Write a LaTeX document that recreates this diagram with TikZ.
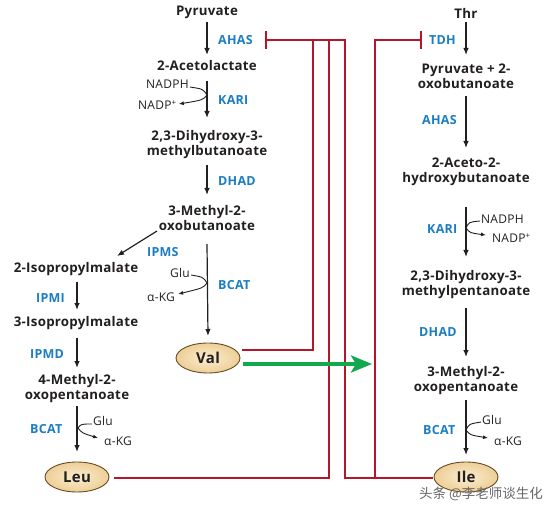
\documentclass[tikz,border=0pt]{standalone}
\usepackage{fontspec}
\setmainfont{Open Sans}[LetterSpace=2]
\newfontfamily\cjk{Noto Sans CJK SC}
\usetikzlibrary{arrows.meta,shapes.geometric}
\definecolor{txt}{HTML}{231F20}
\definecolor{enz}{HTML}{1B7DC3}
\definecolor{inhred}{HTML}{B2172A}
\definecolor{actgreen}{HTML}{12A94E}
\definecolor{ellin}{HTML}{FBEDCF}
\definecolor{ellout}{HTML}{EDCF98}
\definecolor{elldraw}{HTML}{6A4A20}
\tikzset{
  met/.style={font=\bfseries\fontsize{13.3}{15}\selectfont, align=center, inner sep=1pt, text=txt},
  enzlab/.style={font=\bfseries\fontsize{12.5}{14}\selectfont, text=enz, inner sep=0pt, anchor=west},
  cof/.style={font=\fontsize{12}{13}\selectfont, inner sep=0pt, text=txt, anchor=west},
  aa/.style={ellipse, draw=elldraw, line width=0.9pt, inner color=ellin, outer color=ellout, minimum width=64pt, minimum height=30pt, inner sep=0pt, font=\bfseries\fontsize{15}{17}\selectfont, text=txt},
  arr/.style={-{Latex[length=7pt,width=5.5pt]}, line width=1.2pt, draw=txt},
  side/.style={-{Latex[length=5pt,width=4pt]}, line width=0.9pt, draw=txt},
  inh/.style={draw=inhred, line width=2.2pt},
  inhbar/.style={inh, -{Bar[width=18pt]}},
  act/.style={draw=actgreen, line width=4.5pt, -{Stealth[length=21pt,width=17pt,inset=5pt]}}
}
\begin{document}
\begin{tikzpicture}[x=1pt,y=-1pt]
\useasboundingbox (0,0) rectangle (557,513);
% left pathway nodes
\node[met] (pyr) at (207,12) {Pyruvate};
\node[met] (acl) at (207,66) {2-Acetolactate};
\node[met] (dhmb) at (207,145) {2,3-Dihydroxy-3-\\methylbutanoate};
\node[met] (mob) at (207,218) {3-Methyl-2-\\oxobutanoate};
\node[aa] (val) at (208,358) {Val};
\node[met] (ipma) at (76,269) {2-Isopropylmalate};
\node[met] (ipmb) at (76,323) {3-Isopropylmalate};
\node[met] (mop) at (77,389) {4-Methyl-2-\\oxopentanoate};
\node[aa] (leu) at (77,477) {Leu};
% right pathway nodes
\node[met] (thr) at (466,13) {Thr};
\node[met] (pob) at (466,76) {Pyruvate + 2-\\oxobutanoate};
\node[met] (ahb) at (466,172) {2-Aceto-2-\\hydroxybutanoate};
\node[met] (dhmp) at (466,285) {2,3-Dihydroxy-3-\\methylpentanoate};
\node[met] (mopt) at (466,381) {3-Methyl-2-\\oxopentanoate};
\node[aa] (ile) at (466,477) {Ile};
% enzyme labels
\node[enzlab] (e1) at (218,40) {AHAS};
\node[enzlab] (e2) at (218,100) {KARI};
\node[enzlab] (e3) at (218,181) {DHAD};
\node[enzlab] (e4) at (147,252) {IPMS};
\node[enzlab] (e5) at (218,285) {BCAT};
\node[enzlab] (e6) at (36,298) {IPMI};
\node[enzlab] (e7) at (30,354) {IPMD};
\node[enzlab] (e8) at (30,429) {BCAT};
\node[enzlab] (e9) at (429,40) {TDH};
\node[enzlab] (e10) at (422,120) {AHAS};
\node[enzlab] (e11) at (427,229) {KARI};
\node[enzlab] (e12) at (419,332) {DHAD};
\node[enzlab] (e13) at (423,430) {BCAT};
% cofactors
\node[cof] (c1) at (146,84) {NADPH};
\node[cof] (c2) at (138,105) {NADP\textsuperscript{+}};
\node[cof] (c3) at (170,273) {Glu};
\node[cof] (c4) at (147,297) {α-KG};
\node[cof] (c5) at (93,421) {Glu};
\node[cof] (c6) at (104,441) {α-KG};
\node[cof] (c7) at (481,219) {NADPH};
\node[cof] (c8) at (492,238) {NADP\textsuperscript{+}};
\node[cof] (c9) at (482,420) {Glu};
\node[cof] (c10) at (494,441) {α-KG};
% main arrows
\draw[arr] ([shift={(0,10)}]pyr.center) -- ([shift={(0,-11)}]acl.center);
\draw[arr] ([shift={(0,15)}]acl.center) -- ([shift={(0,-27)}]dhmb.center);
\draw[arr] ([shift={(0,20)}]dhmb.center) -- ([shift={(0,-23)}]mob.center);
\draw[arr] ([shift={(0,26)}]mob.center) -- ([shift={(0,-22)}]val.center);
\draw[arr] ([shift={(-50,13)}]mob.center) -- ([shift={(41,-13)}]ipma.center);
\draw[arr] ([shift={(1,13)}]ipma.center) -- ([shift={(1,-13)}]ipmb.center);
\draw[arr] ([shift={(1,15)}]ipmb.center) -- ([shift={(0,-21)}]mop.center);
\draw[arr] ([shift={(0,17)}]mop.center) -- ([shift={(0,-25)}]leu.center);
\draw[arr] ([shift={(0,9)}]thr.center) -- ([shift={(0,-21)}]pob.center);
\draw[arr] ([shift={(0,20)}]pob.center) -- ([shift={(0,-24)}]ahb.center);
\draw[arr] ([shift={(0,35)}]ahb.center) -- ([shift={(0,-28)}]dhmp.center);
\draw[arr] ([shift={(0,23)}]dhmp.center) -- ([shift={(0,-24)}]mopt.center);
\draw[arr] ([shift={(0,19)}]mopt.center) -- ([shift={(0,-22)}]ile.center);
% cofactor side arrows
\draw[side] ([shift={(1,3)}]c1.east) .. controls (203,89) .. (207,95) .. controls (203,100) .. ([shift={(2,-1)}]c2.east);
\draw[side] ([shift={(1,2)}]c3.east) .. controls (203,277) .. (207,283) .. controls (203,288) .. ([shift={(3,-3)}]c4.east);
\draw[side] ([shift={(-1,3)}]c5.west) .. controls (81,424) .. (78,428) .. controls (82,433) .. ([shift={(-6,-3)}]c6.west);
\draw[side] ([shift={(-1,2)}]c7.west) .. controls (469,222) .. (466,228) .. controls (470,233) .. ([shift={(-6,-3)}]c8.west);
\draw[side] ([shift={(-1,2)}]c9.west) .. controls (469,424) .. (466,430) .. controls (470,435) .. ([shift={(-6,-3)}]c10.west);
% feedback inhibition
\coordinate (ahasbar) at (265,40);
\coordinate (tdhbar) at (422,40);
\coordinate (jn) at (375,478);
\coordinate (leuj) at (329,478);
\draw[inh] ([shift={(2,-8)}]val.east) -| (313,40);
\draw[inh] ([xshift=5pt]leu.east |- leuj) -| (329,40);
\draw[inhbar] ([xshift=-1pt]ile.west |- jn) -| (345,40) -- (ahasbar);
\draw[inhbar] (jn) |- (tdhbar);
% activation
\coordinate (gend) at (372,364);
\draw[act] ([shift={(3,6)}]val.east) -- (gend);
% watermark
\node[font=\cjk\fontsize{13.5}{15}\selectfont, text=black!60, inner sep=0pt] (wm) at (481,494) {头条 @李老师谈生化};
\end{tikzpicture}
\end{document}
